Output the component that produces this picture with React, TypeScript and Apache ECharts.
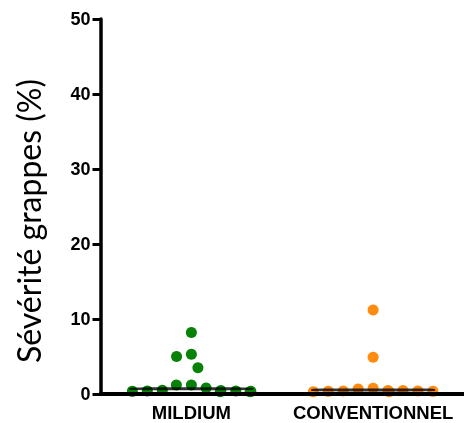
import React, { useEffect, useRef } from "react";
import * as echarts from "echarts";

const categories = ["MILDIUM", "CONVENTIONNEL"];
const mildiumValues = [8.2, 5.3, 5.0, 3.5, 1.2, 1.2, 0.8, 0.5, 0.45, 0.4, 0.4, 0.35, 0.35, 0.3, 0.3];
const conventionnelValues = [11.2, 4.9, 0.75, 0.65, 0.45, 0.45, 0.4, 0.4, 0.35, 0.35, 0.3, 0.3];
const medians = [0.7, 0.55];
const yTicks = { min: 0, max: 50, interval: 10 };
const yTitle = "Sévérité grappes (%)";

export default function App() {
  const ref = useRef<HTMLDivElement>(null);
  useEffect(() => {
    if (!ref.current) return;
    document.body.style.margin = "0";
    document.body.style.overflow = "hidden";
    const chart = echarts.init(ref.current, null, { renderer: "svg" });
    const axisFont = "'Liberation Sans', Arial, sans-serif";
    chart.setOption({
      animation: false,
      grid: { left: 100.5, right: -5, top: 19, bottom: 29, containLabel: false },
      graphic: [
        {
          type: "text",
          x: 28,
          y: 221,
          rotation: Math.PI / 2,
          style: {
            text: yTitle,
            fill: "#000",
            font: "32px Lato, 'Open Sans', sans-serif",
            textAlign: "center",
            textVerticalAlign: "middle",
          },
        },
      ],
      xAxis: [
        {
          type: "category",
          data: categories,
          jitter: 130,
          jitterOverlap: false,
          jitterMargin: 4,
          z: 10,
          axisLine: { lineStyle: { color: "#000", width: 4 } },
          axisTick: { show: false },
          axisLabel: {
            interval: 0,
            hideOverlap: false,
            color: "#000",
            fontWeight: "bold",
            fontSize: 18.5,
            fontFamily: axisFont,
            margin: 9,
          },
          splitLine: { show: false },
        },
        {
          type: "category",
          data: categories,
          show: false,
          position: "bottom",
        },
      ],
      yAxis: {
        type: "value",
        min: yTicks.min,
        max: yTicks.max,
        interval: yTicks.interval,
        z: 10,
        axisLine: { show: true, lineStyle: { color: "#000", width: 3.5 } },
        axisTick: { show: true, length: 8, lineStyle: { color: "#000", width: 3 } },
        axisLabel: {
          color: "#000",
          fontWeight: "bold",
          fontSize: 18,
          fontFamily: axisFont,
          margin: 10,
        },
        splitLine: { show: false },
      },
      series: [
        {
          type: "scatter",
          xAxisIndex: 0,
          symbolSize: 11,
          itemStyle: { color: "#078107", opacity: 1 },
          z: 2,
          data: mildiumValues.map((v) => [categories[0], v]),
        },
        {
          type: "scatter",
          xAxisIndex: 0,
          symbolSize: 11,
          itemStyle: { color: "#ff8b10", opacity: 1 },
          z: 2,
          data: conventionnelValues.map((v) => [categories[1], v]),
        },
        {
          type: "scatter",
          xAxisIndex: 1,
          symbol: "roundRect",
          symbolSize: [124, 3],
          itemStyle: { color: "#000" },
          z: 5,
          silent: true,
          data: medians.map((m, i) => [categories[i], m]),
        },
      ],
    });
    return () => chart.dispose();
  }, []);
  return (
    <div
      ref={ref}
      style={{ position: "fixed", left: 0, top: 0, width: 464, height: 423 }}
    />
  );
}
